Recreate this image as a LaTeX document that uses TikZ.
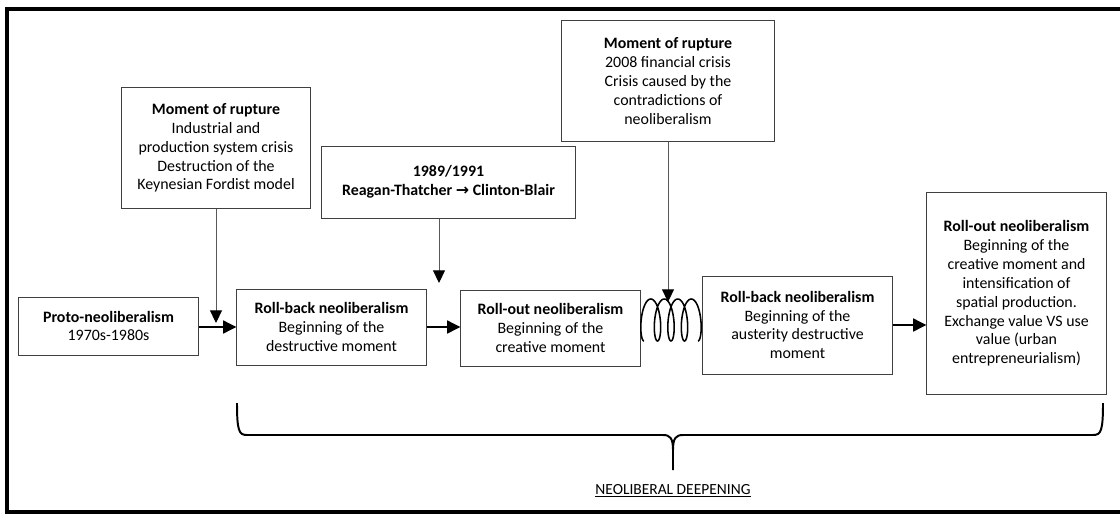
\documentclass[tikz,border=0pt]{standalone}
\usepackage{fontspec}
\setmainfont{Carlito}
\newfontfamily\arrowfont{DejaVu Sans}
\usetikzlibrary{arrows.meta}

\begin{document}
\begin{tikzpicture}[x=0.025cm, y=-0.025cm,
    box/.style={draw=black!75, line width=0.7pt, align=center, inner sep=2pt,
        font=\fontsize{11.3}{13.4}\selectfont},
    flow/.style={line width=1.9pt, -{Triangle[length=9.5pt, width=9pt]}},
    hit/.style={draw=black!65, line width=0.7pt, -{Triangle[length=9pt, width=8.5pt, color=black]}}]
    \useasboundingbox (0,0) rectangle (1120,514);

    % Frame
    \draw[line width=2.8pt] (1130,9) -- (7,9) -- (7,512) -- (1130,512);

    % Main row
    \node[box, minimum width=4.475cm, minimum height=1.45cm] (proto) at (108.5,326) {\textbf{Proto-neoliberalism}\\1970s-1980s};
    \node[box, minimum width=4.725cm, minimum height=1.9cm] (rb1) at (331.5,327) {\textbf{Roll-back neoliberalism}\\Beginning of the\\destructive moment};
    \node[box, minimum width=4.475cm, minimum height=1.9cm] (ro1) at (550.5,328) {\textbf{Roll-out neoliberalism}\\Beginning of the\\creative moment};
    \node[box, minimum width=4.725cm, minimum height=2.45cm] (rb2) at (797.5,325) {\textbf{Roll-back neoliberalism}\\Beginning of the\\austerity destructive\\moment};
    \node[box, minimum width=4.475cm, minimum height=5.025cm] (ro2) at (1016.5,293.5) {\textbf{Roll-out neoliberalism}\\Beginning of the\\creative moment and\\intensification of\\spatial production.\\Exchange value VS use\\value (urban\\entrepreneurialism)};

    % Moments of rupture
    \node[box, minimum width=4.7cm, minimum height=3cm] (rup1) at (216,148) {\textbf{Moment of rupture}\\Industrial and\\production system crisis\\Destruction of the\\Keynesian Fordist model};
    \node[box, minimum width=6.325cm, minimum height=1.8cm] (rup2) at (448.5,182) {\textbf{1989/1991}\\\textbf{Reagan-Thatcher {\arrowfont →} Clinton-Blair}};
    \node[box, minimum width=5.3cm, minimum height=3cm] (rup3) at (668,81) {\textbf{Moment of rupture}\\2008 financial crisis\\Crisis caused by the\\contradictions of\\neoliberalism};

    % Row arrows
    \draw[flow] (proto.east |- rb1) -- (rb1.west);
    \draw[flow] (rb1.east) -- (ro1.west |- rb1.east);
    \draw[flow] (rb2.east) -- (ro2.west |- rb2.east);

    % Coil
    \coordinate (coil) at (644,320);
    \draw[line width=1.1pt, shift={(coil)}] plot[domain=0:1440, samples=240, smooth, variable=\t]
        ({\t/360*13.5 - 6.2*sin(\t)}, {21*cos(\t)});

    % Rupture arrows
    \coordinate (hit1) at (216,323);
    \coordinate (hit2) at (439,283);
    \coordinate (hit3) at (668,302);
    \draw[hit] (rup1.south) -- (hit1);
    \draw[hit] (rup2.south -| hit2) -- (hit2);
    \draw[hit] (rup3.south) -- (hit3);

    % Brace
    \coordinate (tip) at (673,470);
    \draw[line width=1.4pt] (237,403) .. controls (237,431) and (239,435) .. (247,435) -- (663,435)
        .. controls (670,435) and (673,438) .. (673,450) -- (tip);
    \draw[line width=1.4pt] (1103,403) .. controls (1103,431) and (1101,435) .. (1093,435) -- (683,435)
        .. controls (676,435) and (673,438) .. (673,450);
    \node[font=\fontsize{11}{13}\selectfont] (deep) at (673,491) {\underline{NEOLIBERAL DEEPENING}};
\end{tikzpicture}
\end{document}
